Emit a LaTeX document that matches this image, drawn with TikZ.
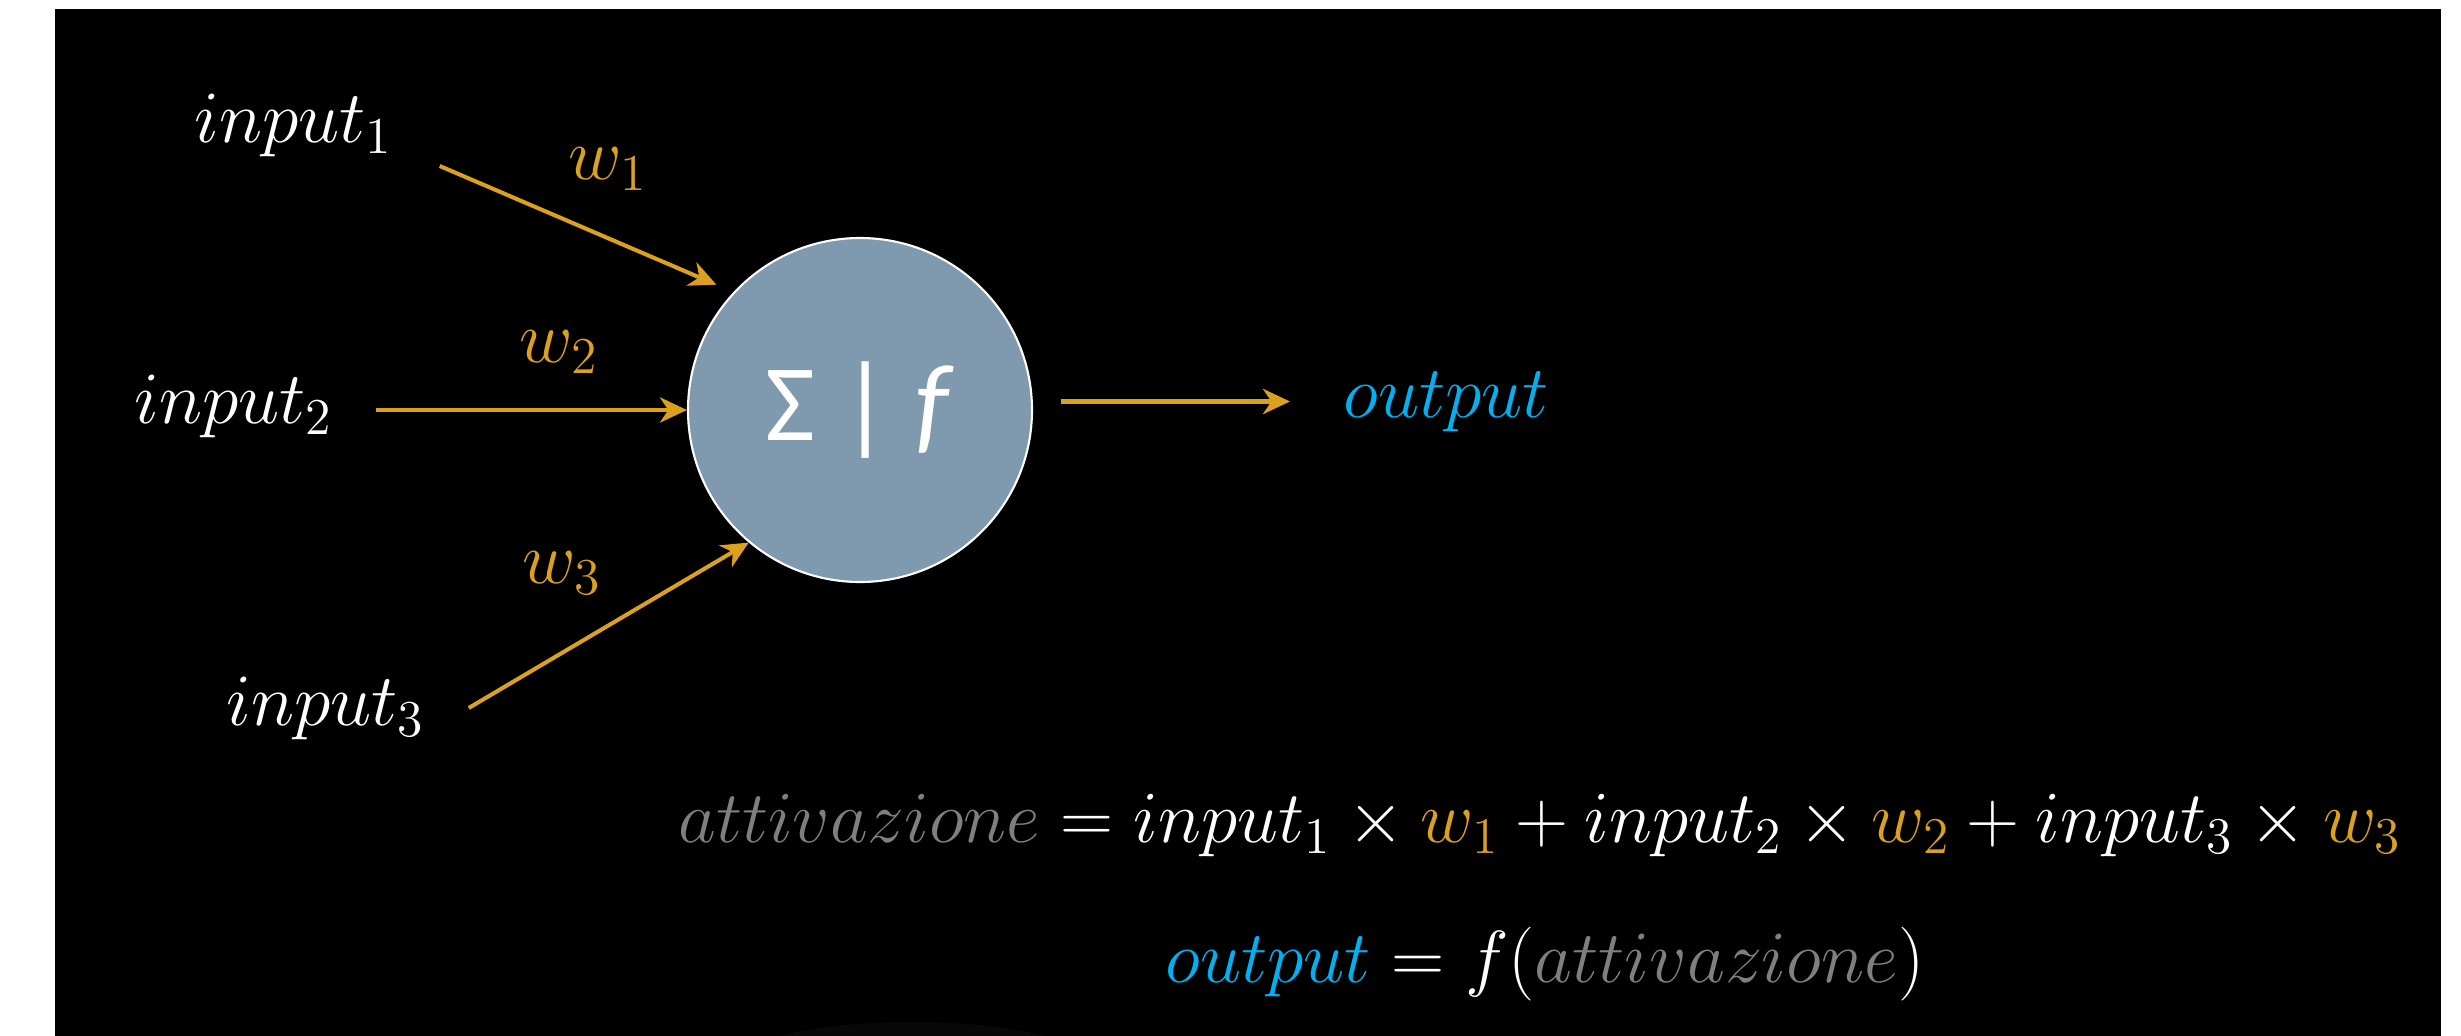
\RequirePackage{fix-cm}
\documentclass[tikz,border=0pt]{standalone}
\usepackage{amsmath}
\usepackage{fontspec}
\newfontfamily\carlito{Carlito}
\usepackage{xcolor}
\usetikzlibrary{arrows.meta, calc, positioning}

\definecolor{wcolor}{RGB}{218,160,30}
\definecolor{outcolor}{RGB}{0,176,240}
\definecolor{actcolor}{RGB}{127,127,127}
\definecolor{neuroncolor}{RGB}{127,153,175}

\begin{document}
\begin{tikzpicture}[>={Stealth[length=7.7pt, width=7.2pt, inset=2.4pt]},
    wire/.style={->, wcolor, line width=1.15pt},
    lab/.style={inner sep=0pt, anchor=base west, text=white, font=\fontsize{21}{25}\selectfont}]
    % 0. Khung nền đen trên nền trắng
    \useasboundingbox (0,0) rectangle (24.61,-10.36);
    \fill[white] (0,0) rectangle (24.61,-10.36);
    \fill[black] (0.55,-0.09) rectangle (24.41,-10.36);
    \begin{scope}
        \clip (0.55,-0.09) rectangle (24.41,-10.36);
        \fill[black!97!white] (9.12,-10.62) ellipse (1.75 and 0.4);
    \end{scope}

    % 1. Nơ-ron ở giữa
    \node[circle, minimum size=3.44cm, inner sep=0pt, fill=neuroncolor, draw=white, line width=0.6pt,
          text=white, font=\carlito\fontsize{31}{37}\selectfont] (neuron) at (8.60,-4.10) {Σ | \textit{f}};

    % 2. Các nhãn đầu vào, trọng số và đầu ra
    \node[lab] (in1) at (1.94,-1.42) {$input_1$};
    \node[lab] (in2) at (1.34,-4.23) {$input_2$};
    \node[lab] (in3) at (2.26,-7.25) {$input_3$};
    \node[lab, text=wcolor] (w1) at (5.68,-1.79) {$w_1$};
    \node[lab, text=wcolor] (w2) at (5.19,-3.62) {$w_2$};
    \node[lab, text=wcolor] (w3) at (5.22,-5.83) {$w_3$};
    \node[lab, text=outcolor] (out) at (13.43,-4.17) {$output$};

    % 3. Các mũi tên vào và ra
    \draw[wire, shorten >=0.185cm] ($(in1.east)+(0.46,-0.41)$) -- (neuron.137);
    \draw[wire] ($(in2.east |- neuron.west)+(0.42,0)$) -- (neuron.west);
    \draw[wire] ([xshift=0.43cm]in3.east) -- (neuron.230);
    \draw[wire] ($(neuron.east |- out.west)+(0.28,0)$) -- ([xshift=-0.53cm]out.west);

    % 4. Công thức bên dưới
    \node[lab, anchor=base, font=\fontsize{20.9}{25}\selectfont] (eq1) at (15.40,-8.42)
        {$\textcolor{actcolor}{attivazione} = input_1 \times \textcolor{wcolor}{w_1} + input_2 \times \textcolor{wcolor}{w_2} + input_3 \times \textcolor{wcolor}{w_3}$};
    \node[lab, anchor=base] (eq2) at (15.45,-9.82)
        {$\textcolor{outcolor}{output} = f(\textcolor{actcolor}{attivazione})$};
\end{tikzpicture}
\end{document}
